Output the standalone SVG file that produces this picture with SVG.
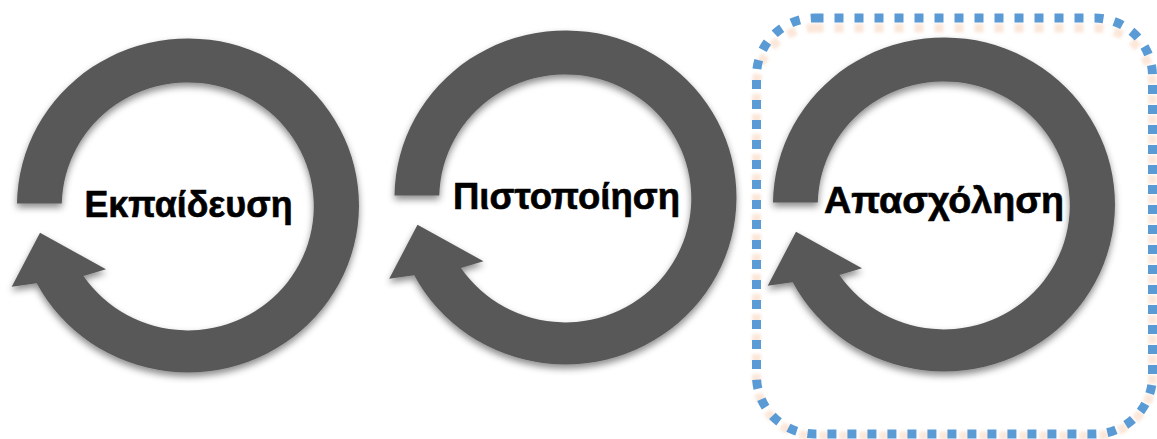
<svg xmlns="http://www.w3.org/2000/svg" xmlns:xlink="http://www.w3.org/1999/xlink" width="1157" height="439" viewBox="0 0 1157 439">
  <style>
    .ring { fill: #595959; filter: url(#shadow); }
    .label { font-family: "Liberation Sans", "DejaVu Sans", sans-serif; font-weight: bold; font-size: 36px; fill: #000; stroke: #000; stroke-width: 0.6; text-anchor: middle; }
    .frame { fill: none; stroke: #5b9bd5; stroke-width: 9; stroke-dasharray: 9 11; }
    .glow { fill: none; stroke: #f8cbad; stroke-width: 9; stroke-dasharray: 9 11; opacity: 0.45; filter: url(#soft); }
  </style>
  <defs>
    <filter id="shadow" x="-20%" y="-20%" width="140%" height="140%">
      <feDropShadow dx="0" dy="4" stdDeviation="3.5" flood-color="#000" flood-opacity="0.45"/>
    </filter>
    <filter id="soft" x="-10%" y="-10%" width="120%" height="120%">
      <feGaussianBlur stdDeviation="1.5"/>
    </filter>
    <path id="cycle" d="M 17,203.5 A 171 167 0 1 1 36.7,283.3 L 11.7,286.7 L 40,232.7 L 106,269.3 L 83.5,276 A 126 124 0 1 0 61.8,203.5 Z"/>
  </defs>

  <rect width="1157" height="439" fill="#fff"/>

  <g id="frame">
    <rect class="glow" x="756.5" y="28" width="396" height="408" rx="58" ry="58"/>
    <rect class="frame" x="756.5" y="18" width="396" height="416" rx="58" ry="58"/>
  </g>

  <g id="connectors"></g>

  <g id="node-ekpaidefsi">
    <use xlink:href="#cycle" href="#cycle" class="ring"/>
    <text class="label" x="188.5" y="217" textLength="208" lengthAdjust="spacingAndGlyphs">Εκπαίδευση</text>
  </g>

  <g id="node-pistopoiisi">
    <use xlink:href="#cycle" href="#cycle" class="ring" transform="translate(377.5,-8)"/>
    <text class="label" x="566.5" y="209" textLength="227" lengthAdjust="spacingAndGlyphs">Πιστοποίηση</text>
  </g>

  <g id="node-apasxolisi">
    <use xlink:href="#cycle" href="#cycle" class="ring" transform="translate(756,-1)"/>
    <text class="label" x="944" y="213" textLength="240" lengthAdjust="spacingAndGlyphs">Απασχόληση</text>
  </g>
</svg>
